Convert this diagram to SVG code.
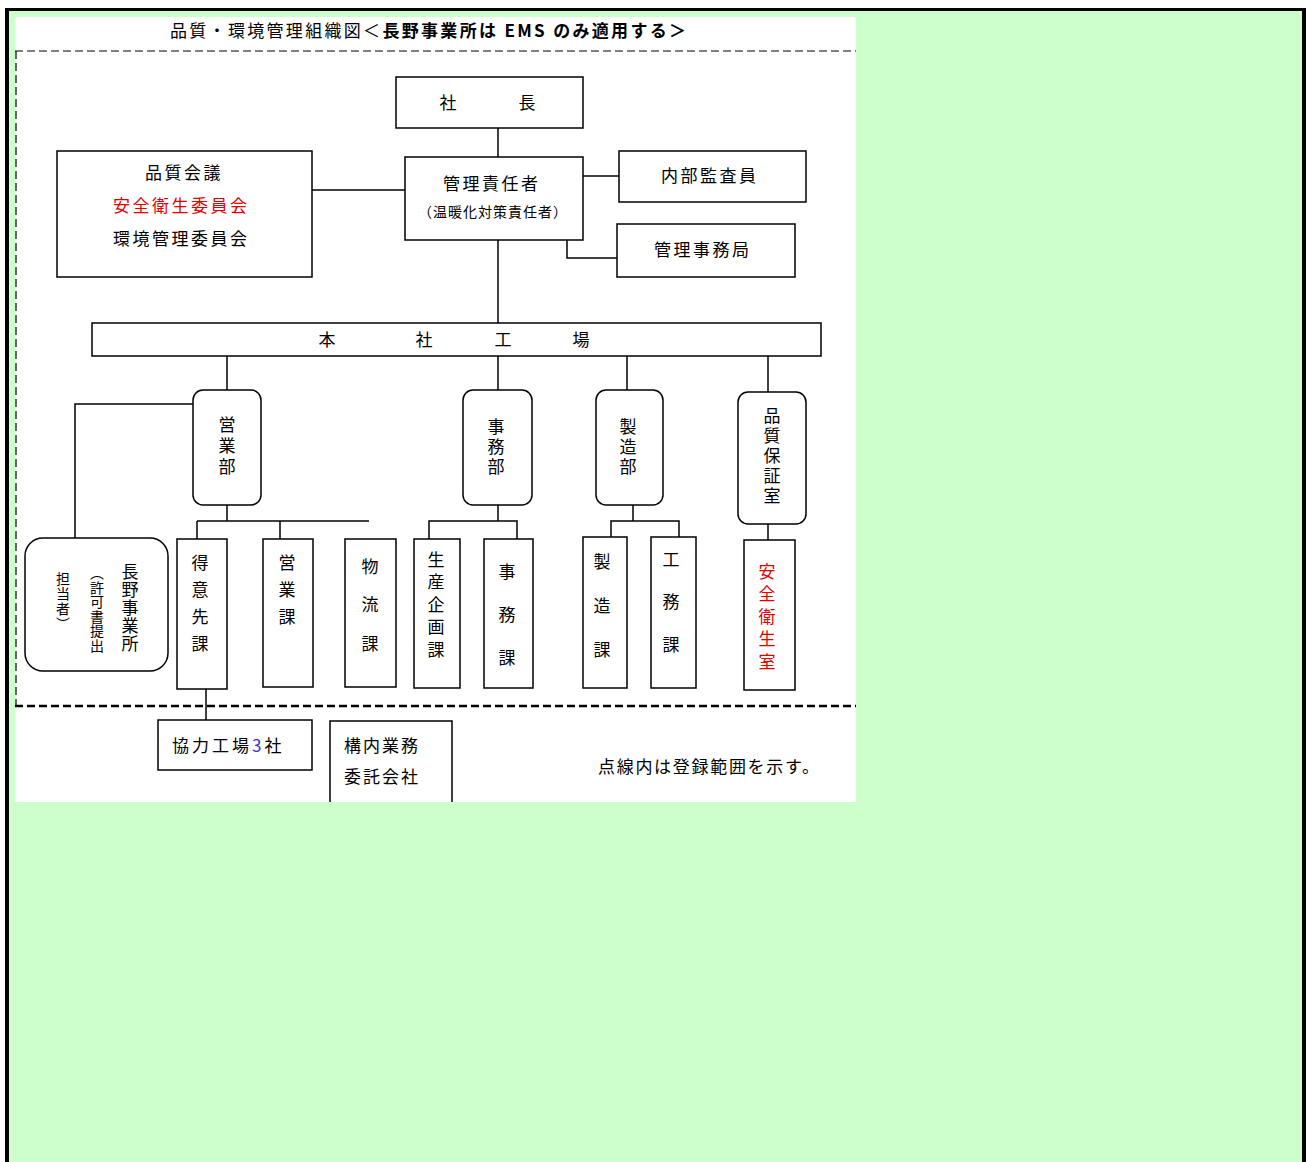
<svg xmlns="http://www.w3.org/2000/svg" width="1308" height="1162" viewBox="0 0 1308 1162">
<style>
text { font-family: "Noto Sans CJK JP", "Noto Sans", sans-serif; font-size: 17px; fill: #000; }
.h { letter-spacing: 2.5px; }
.box { fill: #fff; stroke: #000; stroke-width: 1.5; }
.ln { stroke: #000; stroke-width: 1.5; fill: none; }
.v { writing-mode: vertical-rl; text-anchor: start; }
.red { fill: #e00000; }
.s14 { font-size: 14px; }
</style>
<rect x="0" y="0" width="1308" height="1162" fill="#fff"/>
<rect x="5" y="8" width="1301" height="1160" fill="#000"/>
<rect x="9" y="11" width="1293" height="1160" fill="#ccffcc"/>
<rect x="15" y="17" width="841" height="785" fill="#fff"/>

<g id="title">
<text x="170" y="37" textLength="516" lengthAdjust="spacing">品質・環境管理組織図＜<tspan font-weight="bold">長野事業所は EMS のみ適用する＞</tspan></text>
</g>

<g id="scope">
<line x1="15" y1="51" x2="856" y2="51" stroke="#000" stroke-width="1.2" stroke-dasharray="8,4"/>
<line x1="16" y1="51" x2="16" y2="706" stroke="#000" stroke-width="1.2" stroke-dasharray="8,4"/>
<line x1="15" y1="706" x2="856" y2="706" stroke="#000" stroke-width="2.5" stroke-dasharray="8,4"/>
</g>

<g id="connectors">
<line class="ln" x1="498" y1="128" x2="498" y2="157"/>
<line class="ln" x1="498" y1="240" x2="498" y2="323"/>
<line class="ln" x1="312" y1="190" x2="405" y2="190"/>
<line class="ln" x1="583" y1="176" x2="619" y2="176"/>
<polyline class="ln" points="567,210 567,258 617,258"/>
<line class="ln" x1="227" y1="356" x2="227" y2="390"/>
<line class="ln" x1="498" y1="356" x2="498" y2="390"/>
<line class="ln" x1="627" y1="356" x2="627" y2="390"/>
<line class="ln" x1="768" y1="356" x2="768" y2="392"/>
<polyline class="ln" points="193,404 75,404 75,538"/>
<line class="ln" x1="227" y1="505" x2="227" y2="521"/>
<line class="ln" x1="197" y1="521" x2="369" y2="521"/>
<line class="ln" x1="197" y1="521" x2="197" y2="539"/>
<line class="ln" x1="280" y1="521" x2="280" y2="539"/>
<line class="ln" x1="498" y1="505" x2="498" y2="521"/>
<polyline class="ln" points="429,539 429,521 517,521 517,539"/>
<line class="ln" x1="633" y1="505" x2="633" y2="521"/>
<polyline class="ln" points="611,537 611,521 679,521 679,537"/>
<line class="ln" x1="768" y1="524" x2="768" y2="540"/>
<line class="ln" x1="206" y1="689" x2="206" y2="720"/>
</g>

<g id="president">
<rect class="box" x="396" y="77" width="187" height="51"/>
<text x="448" y="109" text-anchor="middle">社</text>
<text x="527" y="109" text-anchor="middle">長</text>
</g>

<g id="manager">
<rect class="box" x="405" y="157" width="178" height="83"/>
<text x="443" y="190" class="h">管理責任者</text>
<text x="418" y="217" class="s14" letter-spacing="1">（温暖化対策責任者）</text>
</g>

<g id="committee">
<rect class="box" x="57" y="151" width="255" height="126"/>
<text x="145" y="179" class="h">品質会議</text>
<text x="113" y="212" class="h red">安全衛生委員会</text>
<text x="113" y="245" class="h">環境管理委員会</text>
</g>

<g id="auditor">
<rect class="box" x="619" y="151" width="187" height="51"/>
<text x="661" y="182" class="h">内部監査員</text>
</g>

<g id="office">
<rect class="box" x="617" y="224" width="178" height="53"/>
<text x="654" y="256" class="h">管理事務局</text>
</g>

<g id="factory">
<rect class="box" x="92" y="323" width="729" height="33"/>
<text x="327" y="346" text-anchor="middle">本</text>
<text x="424" y="346" text-anchor="middle">社</text>
<text x="503" y="346" text-anchor="middle">工</text>
<text x="581" y="346" text-anchor="middle">場</text>
</g>

<g id="sales-dept">
<rect class="box" x="193" y="390" width="68" height="115" rx="10"/>
<text class="v" x="227" y="416" letter-spacing="4">営業部</text>
</g>

<g id="admin-dept">
<rect class="box" x="463" y="390" width="69" height="115" rx="10"/>
<text class="v" x="496" y="418" letter-spacing="3">事務部</text>
</g>

<g id="mfg-dept">
<rect class="box" x="596" y="390" width="67" height="115" rx="10"/>
<text class="v" x="628" y="418" letter-spacing="3">製造部</text>
</g>

<g id="qa-room">
<rect class="box" x="738" y="392" width="68" height="132" rx="10"/>
<text class="v" x="772" y="407" letter-spacing="3">品質保証室</text>
</g>

<g id="nagano">
<rect class="box" x="25" y="538" width="143" height="133" rx="18"/>
<text class="v" x="130" y="563" font-size="15" letter-spacing="1">長野事業所</text>
<text class="v s14" x="97" y="566" letter-spacing="0.5">（許可書提出</text>
<text class="v s14" x="63" y="572" letter-spacing="1">担当者）</text>
</g>

<g id="customer-sec">
<rect class="box" x="177" y="539" width="50" height="150"/>
<text class="v" x="200" y="554" letter-spacing="10">得意先課</text>
</g>

<g id="sales-sec">
<rect class="box" x="263" y="539" width="50" height="148"/>
<text class="v" x="287" y="554" letter-spacing="10">営業課</text>
</g>

<g id="logistics-sec">
<rect class="box" x="345" y="539" width="51" height="148"/>
<text class="v" x="370" y="558" letter-spacing="21.5">物流課</text>
</g>

<g id="planning-sec">
<rect class="box" x="414" y="539" width="46" height="149"/>
<text class="v" x="436" y="551" letter-spacing="5.5">生産企画課</text>
</g>

<g id="admin-sec">
<rect class="box" x="484" y="539" width="49" height="149"/>
<text class="v" x="507" y="563" letter-spacing="26">事務課</text>
</g>

<g id="mfg-sec">
<rect class="box" x="583" y="537" width="44" height="151"/>
<text class="v" x="602" y="553" letter-spacing="27">製造課</text>
</g>

<g id="works-sec">
<rect class="box" x="651" y="537" width="45" height="151"/>
<text class="v" x="671" y="551" letter-spacing="25.5">工務課</text>
</g>

<g id="safety-room">
<rect class="box" x="744" y="540" width="51" height="150"/>
<text class="v red" x="767" y="563" letter-spacing="5.5">安全衛生室</text>
</g>

<g id="partners">
<rect class="box" x="158" y="720" width="154" height="50"/>
<text x="172" y="752" letter-spacing="3">協力工場<tspan fill="#3333cc">3</tspan>社</text>
</g>

<g id="contractor">
<path class="ln" d="M330,802 V721 H452 V802" fill="#fff"/>
<text x="344" y="752" letter-spacing="2">構内業務</text>
<text x="344" y="783" letter-spacing="2">委託会社</text>
</g>

<g id="note">
<text x="598" y="773" letter-spacing="1.7">点線内は登録範囲を示す。</text>
</g>
</svg>
